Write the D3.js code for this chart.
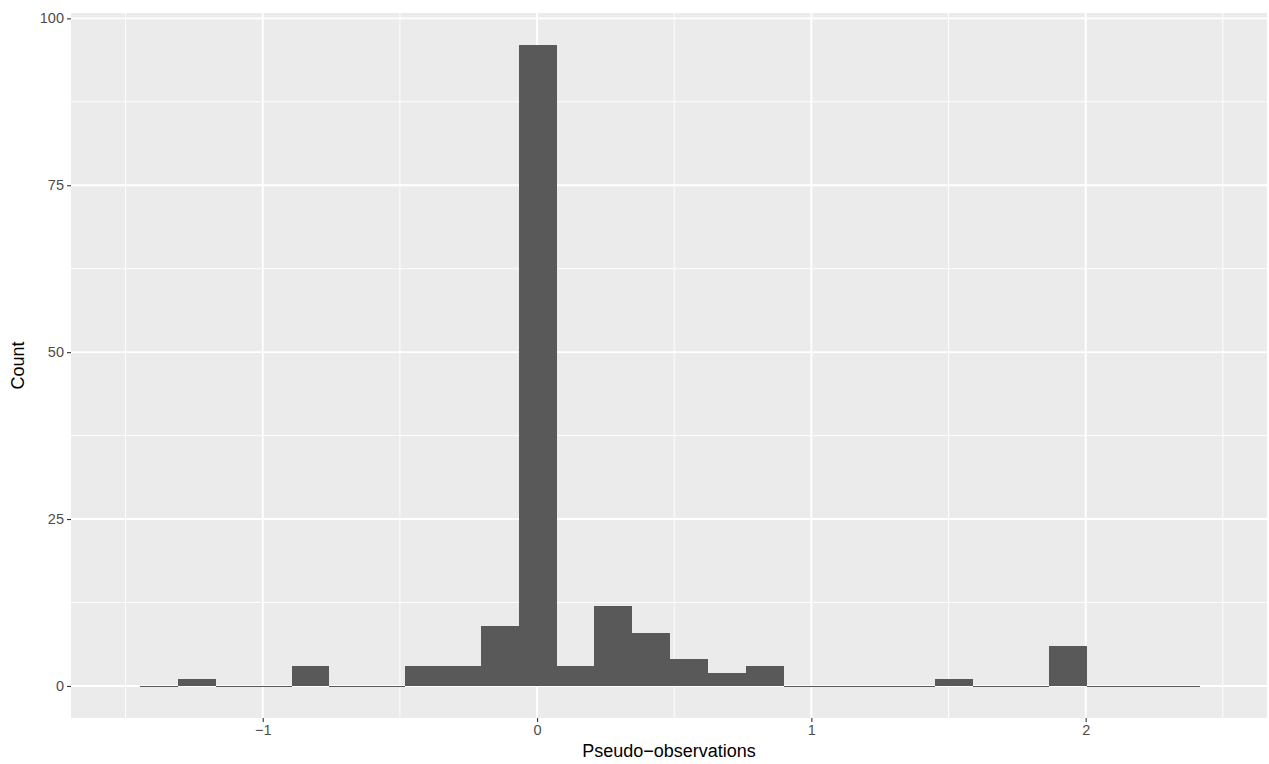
<!DOCTYPE html>
<html>
<head>
<meta charset="utf-8">
<script src="https://cdn.jsdelivr.net/npm/d3@7"></script>
<style>
  html, body { margin: 0; padding: 0; background: #ffffff; }
  svg { display: block; }
  text { font-family: "Liberation Sans", Arial, Helvetica, sans-serif; }
</style>
</head>
<body>
<svg id="chart" width="1269" height="764"></svg>
<script>
// Histogram bin edges (lower edges of each bin, plus final upper edge)
const binEdges = [-1.447, -1.309, -1.171, -1.033, -0.895, -0.757, -0.619, -0.481, -0.343, -0.205,
                  -0.067, 0.071, 0.209, 0.347, 0.485, 0.623, 0.761, 0.899, 1.037, 1.175,
                  1.313, 1.451, 1.589, 1.727, 1.865, 2.003, 2.141, 2.279, 2.417];
// Counts in each bin
const counts = [0, 1, 0, 0, 3, 0, 0, 3, 3, 9,
                96, 3, 12, 8, 4, 2, 3, 0, 0, 0,
                0, 1, 0, 0, 6, 0, 0, 0];
const xTicks = [-1, 0, 1, 2];
const xTickLabels = ["\u22121", "0", "1", "2"];
const xMinor = [-1.5, -0.5, 0.5, 1.5, 2.5];
const yTicks = [0, 25, 50, 75, 100];
const yMinor = [12.5, 37.5, 62.5, 87.5];
const xTitle = "Pseudo\u2212observations";
const yTitle = "Count";

const bins = counts.map((c, i) => ({x0: binEdges[i], x1: binEdges[i + 1], count: c}));

const panel = {left: 71, right: 1267, top: 13, bottom: 718};
const svg = d3.select("#chart");

const x = d3.scaleLinear().domain([-1.699, 2.661]).range([panel.left, panel.right]);
const y = d3.scaleLinear().domain([-4.8, 100.8]).range([panel.bottom, panel.top]);

// panel background
svg.append("rect")
  .attr("x", panel.left).attr("y", panel.top)
  .attr("width", panel.right - panel.left).attr("height", panel.bottom - panel.top)
  .attr("fill", "#EBEBEB");

const grid = svg.append("g");
// minor grid
grid.selectAll("line.xminor").data(xMinor).join("line")
  .attr("x1", d => x(d)).attr("x2", d => x(d))
  .attr("y1", panel.top).attr("y2", panel.bottom)
  .attr("stroke", "#ffffff").attr("stroke-width", 0.9);
grid.selectAll("line.yminor").data(yMinor).join("line")
  .attr("y1", d => y(d)).attr("y2", d => y(d))
  .attr("x1", panel.left).attr("x2", panel.right)
  .attr("stroke", "#ffffff").attr("stroke-width", 0.9);
// major grid
grid.selectAll("line.xmajor").data(xTicks).join("line")
  .attr("x1", d => x(d)).attr("x2", d => x(d))
  .attr("y1", panel.top).attr("y2", panel.bottom)
  .attr("stroke", "#ffffff").attr("stroke-width", 1.9);
grid.selectAll("line.ymajor").data(yTicks).join("line")
  .attr("y1", d => y(d)).attr("y2", d => y(d))
  .attr("x1", panel.left).attr("x2", panel.right)
  .attr("stroke", "#ffffff").attr("stroke-width", 1.9);

// bars
svg.append("g").attr("shape-rendering", "crispEdges")
  .selectAll("rect").data(bins).join("rect")
  .attr("x", d => x(d.x0))
  .attr("width", d => x(d.x1) - x(d.x0))
  .attr("y", d => d.count > 0 ? y(d.count) : Math.round(y(0)))
  .attr("height", d => d.count > 0 ? y(0) - y(d.count) + 0.5 : 1)
  .attr("fill", "#595959");

// axes
const tickFont = 14.5;
const xAxis = d3.axisBottom(x).tickValues(xTicks)
  .tickFormat((d, i) => xTickLabels[i]).tickSize(4).tickPadding(3);
const gx = svg.append("g").attr("transform", `translate(0,${panel.bottom})`).call(xAxis);
gx.select(".domain").remove();
gx.selectAll(".tick line").attr("stroke", "#333333").attr("stroke-width", 1.1);
gx.selectAll(".tick text").attr("fill", "#4D4D4D").attr("font-size", tickFont)
  .attr("font-family", "'Liberation Sans', Arial, sans-serif");

const yAxis = d3.axisLeft(y).tickValues(yTicks).tickSize(4).tickPadding(3);
const gy = svg.append("g").attr("transform", `translate(${panel.left},0)`).call(yAxis);
gy.select(".domain").remove();
gy.selectAll(".tick line").attr("stroke", "#333333").attr("stroke-width", 1.1);
gy.selectAll(".tick text").attr("fill", "#4D4D4D").attr("font-size", tickFont)
  .attr("font-family", "'Liberation Sans', Arial, sans-serif");

// titles
svg.append("text")
  .attr("x", (panel.left + panel.right) / 2).attr("y", 757)
  .attr("text-anchor", "middle").attr("font-size", 18).attr("fill", "#000")
  .text(xTitle);
svg.append("text")
  .attr("transform", `translate(24,${(panel.top + panel.bottom) / 2}) rotate(-90)`)
  .attr("text-anchor", "middle").attr("font-size", 18).attr("fill", "#000")
  .text(yTitle);
</script>
</body>
</html>
